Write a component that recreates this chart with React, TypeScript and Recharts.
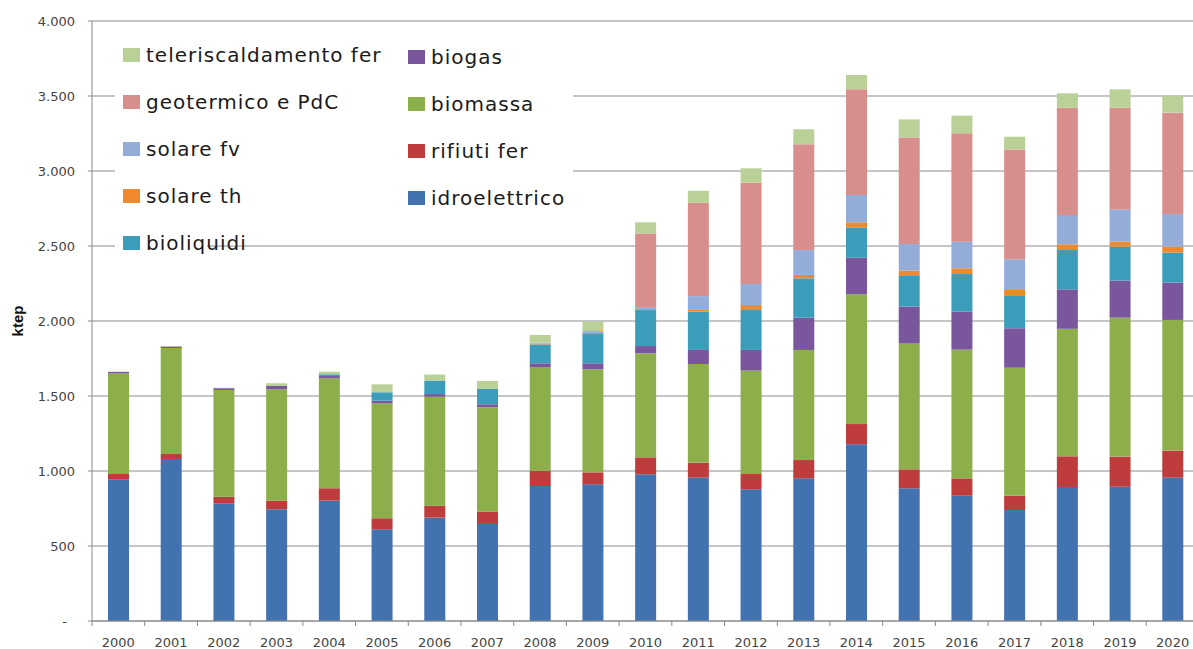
import { BarChart, Bar, XAxis, YAxis, CartesianGrid } from 'recharts';

const years = [
  '2000', '2001', '2002', '2003', '2004', '2005', '2006', '2007', '2008', '2009', '2010',
  '2011', '2012', '2013', '2014', '2015', '2016', '2017', '2018', '2019', '2020',
];

// ktep per fonte (dal basso verso l'alto)
const idroelettrico = [945, 1080, 785, 745, 802, 611, 689, 647, 900, 911, 978, 956, 878, 951, 1178, 885, 835, 740, 893, 895, 956];
const rifiutiFer = [35, 33, 44, 57, 83, 74, 80, 82, 102, 80, 113, 100, 102, 122, 135, 126, 116, 95, 205, 201, 180];
const biomassa = [670, 707, 711, 743, 733, 766, 726, 695, 689, 687, 693, 657, 689, 734, 865, 838, 858, 854, 850, 926, 871];
const biogas = [10, 10, 12, 22, 15, 18, 18, 21, 27, 40, 49, 94, 138, 215, 244, 247, 253, 262, 263, 247, 249];
const bioliquidi = [0, 0, 0, 0, 12, 56, 90, 102, 126, 195, 240, 255, 266, 262, 202, 204, 251, 216, 262, 227, 200];
const solareTh = [0, 0, 0, 0, 0, 0, 0, 0, 5, 8, 6, 12, 34, 23, 34, 36, 38, 40, 38, 33, 40];
const solareFv = [0, 0, 0, 0, 0, 0, 0, 0, 6, 12, 10, 92, 140, 166, 182, 177, 178, 204, 196, 215, 217];
const geotermico = [0, 0, 0, 0, 0, 0, 0, 0, 0, 0, 495, 622, 675, 705, 705, 711, 722, 733, 715, 678, 676];
const teleriscaldamento = [3, 3, 3, 18, 17, 53, 40, 53, 52, 62, 74, 80, 96, 100, 95, 120, 118, 85, 96, 122, 111];

const yTicks = [0, 500, 1000, 1500, 2000, 2500, 3000, 3500, 4000];

const series = [
  { key: 'idroelettrico', label: 'idroelettrico', color: '#4372B0', values: idroelettrico },
  { key: 'rifiuti', label: 'rifiuti fer', color: '#BE3C3C', values: rifiutiFer },
  { key: 'biomassa', label: 'biomassa', color: '#8DAF4B', values: biomassa },
  { key: 'biogas', label: 'biogas', color: '#7A579C', values: biogas },
  { key: 'bioliquidi', label: 'bioliquidi', color: '#3C9DBA', values: bioliquidi },
  { key: 'solareTh', label: 'solare th', color: '#F0882E', values: solareTh },
  { key: 'solareFv', label: 'solare fv', color: '#93ACD8', values: solareFv },
  { key: 'geotermico', label: 'geotermico e PdC', color: '#D88E8C', values: geotermico },
  { key: 'teleriscaldamento', label: 'teleriscaldamento fer', color: '#B9D096', values: teleriscaldamento },
];

const legendColumns = [
  ['teleriscaldamento', 'geotermico', 'solareFv', 'solareTh', 'bioliquidi'],
  ['biogas', 'biomassa', 'rifiuti', 'idroelettrico'],
];

const data = years.map((year, i) => {
  const row: any = { year };
  series.forEach(s => { row[s.key] = s.values[i]; });
  return row;
});

const AXIS_GREY = '#888888';
const TICK_FONT = '"DejaVu Sans", sans-serif';

const formatThousands = (v: number) =>
  v === 0 ? '-' : String(v).replace(/\B(?=(\d{3})+(?!\d))/g, '.');

function YearTick(props: any) {
  const { x, y, payload, index } = props;
  const half = payload && payload.offset ? payload.offset : 26.35;
  return (
    <g>
      <line x1={x - half} x2={x - half} y1={y} y2={y + 5} stroke={AXIS_GREY} />
      {index === years.length - 1 && (
        <line x1={x + half} x2={x + half} y1={y} y2={y + 5} stroke={AXIS_GREY} />
      )}
      <text x={x} y={y + 26} textAnchor="middle" fontFamily={TICK_FONT} fontSize={13} fill="#444">
        {payload.value}
      </text>
    </g>
  );
}

function ValueTick(props: any) {
  const { x, y, payload } = props;
  const isZero = payload.value === 0;
  return (
    <text
      x={isZero ? x - 8 : x}
      y={y}
      textAnchor="end"
      dominantBaseline="central"
      fontFamily={TICK_FONT}
      fontSize={13}
      fill="#444"
    >
      {formatThousands(payload.value)}
    </text>
  );
}

function KtepLabel(props: any) {
  const vb = props.viewBox || { x: 0, y: 21, width: 92, height: 600 };
  const cx = vb.x + 17;
  const cy = vb.y + vb.height / 2;
  return (
    <text
      x={cx}
      y={cy}
      transform={`rotate(-90 ${cx} ${cy})`}
      textAnchor="middle"
      dominantBaseline="central"
      fontFamily='"Liberation Sans", Arial, sans-serif'
      fontWeight="bold"
      fontSize={15}
      fill="#111"
    >
      ktep
    </text>
  );
}

function LegendBox() {
  const byKey: Record<string, (typeof series)[number]> = {};
  series.forEach(s => { byKey[s.key] = s; });
  return (
    <>
      <div style={{ position: 'absolute', left: 115, top: 30, width: 458, height: 202, background: '#fff' }} />
      <div style={{ position: 'absolute', left: 115, top: 230, width: 92, height: 28, background: '#fff' }} />
      {legendColumns.map((col, ci) =>
        col.map((key, ri) => {
          const s = byKey[key];
          const left = ci === 0 ? 123 : 408;
          const cy = (ci === 0 ? 55 : 57) + ri * 47;
          return (
            <div
              key={key}
              style={{
                position: 'absolute',
                left,
                top: cy - 15,
                height: 30,
                display: 'flex',
                alignItems: 'center',
                gap: 6,
                fontFamily: TICK_FONT,
                fontSize: 20,
                letterSpacing: 1,
                color: '#1a1a1a',
                whiteSpace: 'nowrap',
              }}
            >
              <span style={{ display: 'inline-block', width: 17, height: 14, background: s.color }} />
              <span>{s.label}</span>
            </div>
          );
        })
      )}
    </>
  );
}

export default function App() {
  return (
    <div
      style={{
        position: 'absolute',
        left: 0,
        top: 0,
        width: 1193,
        height: 649,
        overflow: 'hidden',
        background: '#fff',
      }}
    >
      <BarChart width={1200} height={649} data={data} margin={{ top: 21, right: 1, bottom: 0, left: 0 }}>
        <CartesianGrid vertical={false} stroke="#8c8c8c" />
        <XAxis
          dataKey="year"
          height={28}
          interval={0}
          tickSize={0}
          tickMargin={0}
          tickLine={false}
          axisLine={{ stroke: AXIS_GREY }}
          tick={<YearTick />}
        />
        <YAxis
          type="number"
          width={92}
          domain={[0, 4000]}
          ticks={yTicks}
          interval={0}
          tickSize={4}
          tickMargin={13}
          tickLine={{ stroke: AXIS_GREY }}
          axisLine={{ stroke: AXIS_GREY }}
          tick={<ValueTick />}
          label={{ position: 'center', content: <KtepLabel /> }}
        />
        {series.map(s => (
          <Bar
            key={s.key}
            dataKey={s.key}
            name={s.label}
            stackId="fer"
            fill={s.color}
            barSize={21}
            isAnimationActive={false}
          />
        ))}
      </BarChart>
      <LegendBox />
    </div>
  );
}
